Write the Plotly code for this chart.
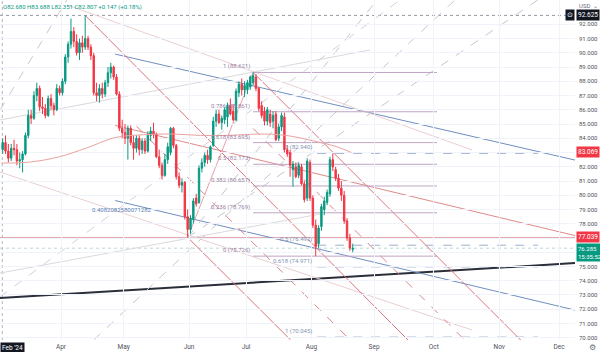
import plotly.graph_objects as go
import pandas as pd

# ---------------- data ----------------
OPEN = [83.2, 83.7, 83.1, 82.6, 83.3, 83.2, 82.4, 82.5, 82.9, 84.2, 85.6, 85.4, 87.0, 87.5, 86.2, 86.1, 85.6, 86.8, 86.3, 86.0, 87.5,
        87.2, 88.0, 89.7, 90.6, 91.5, 90.8, 90.0, 90.7, 90.4, 91.0, 90.4, 89.8, 87.2, 87.0, 87.5, 87.1, 87.9, 88.6, 89.0, 88.3, 87.1, 84.7,
        84.4, 84.0, 84.7, 83.7, 83.3, 84.0, 83.2, 83.8, 83.1, 84.2, 84.5, 84.3, 82.7, 82.1, 81.4, 82.5, 83.0, 84.7, 83.5, 81.3, 80.7, 80.9, 78.5,
        77.6, 78.3, 79.8, 79.5, 81.9, 82.3, 82.8, 82.5, 83.5, 85.2, 85.7, 85.1, 85.3, 85.5, 86.3, 85.9, 85.3, 87.2, 87.8, 87.4,
        87.4, 87.6, 87.9, 88.3, 87.5, 86.3, 85.9, 85.2, 85.7, 85.2, 85.7, 84.0, 84.8, 85.5, 83.2, 83.0, 81.8, 82.0, 81.4, 82.0, 80.8, 79.8, 82.3,
        79.8, 77.9, 76.6, 77.8, 79.0, 79.5, 80.1, 82.5, 81.8, 81.2, 80.5, 80.0, 78.2, 77.0, 76.2]
HIGH = [84.0, 84.2, 83.6, 83.6, 83.9, 83.6, 83.0, 83.1, 84.4, 86.0, 86.0, 87.3, 87.9, 87.7, 86.9, 86.4, 87.0, 87.1, 86.5, 87.8, 87.7,
        88.2, 89.9, 90.8, 92.4, 91.8, 91.3, 91.0, 91.2, 92.625, 91.2, 90.6, 90.0, 87.9, 87.8, 87.9, 88.1, 89.0, 89.3, 89.1, 88.5, 87.3, 85.3,
        85.0, 84.9, 84.9, 84.2, 84.2, 84.2, 84.0, 84.0, 84.5, 84.8, 85.1, 84.4, 83.2, 82.3, 82.9, 83.7, 84.8, 84.8, 83.6, 81.6, 81.2, 81.0, 79.0,
        78.6, 79.8, 80.1, 82.1, 82.6, 83.0, 83.2, 83.5, 85.5, 86.0, 86.0, 85.6, 86.2, 86.5, 86.8, 86.4, 87.5, 88.0, 88.2, 88.0,
        88.1, 88.4, 88.621, 88.5, 87.6, 86.6, 86.2, 86.2, 86.0, 85.9, 85.9, 85.0, 85.8, 85.8, 83.5, 83.2, 82.4, 82.3, 82.3, 82.2, 81.0, 82.6, 82.5,
        80.0, 78.3, 77.9, 79.4, 79.9, 80.4, 82.7, 82.94, 82.0, 81.5, 81.0, 80.3, 78.4, 77.3, 76.6]
LOW = [82.9, 82.9, 82.3, 82.4, 82.8, 82.1, 81.9, 81.6, 82.8, 84.0, 85.0, 85.3, 86.6, 85.9, 85.7, 85.4, 85.5, 86.0, 85.6, 85.9, 87.0,
       87.0, 87.8, 89.3, 90.3, 90.4, 89.8, 89.5, 90.0, 90.2, 90.2, 89.5, 87.0, 86.6, 86.5, 86.8, 86.9, 87.6, 88.2, 88.1, 87.0, 84.5, 84.0,
       83.6, 82.5, 83.5, 82.5, 83.0, 82.8, 82.9, 82.9, 83.0, 83.8, 84.0, 82.6, 81.9, 81.1, 81.3, 82.2, 82.8, 83.3, 81.1, 80.5, 80.2, 78.3, 77.04,
       77.3, 78.0, 79.2, 79.4, 81.6, 82.0, 82.2, 82.3, 83.4, 84.8, 85.0, 84.6, 85.0, 84.8, 85.6, 85.2, 85.2, 86.9, 87.0, 86.9,
       87.1, 87.4, 87.7, 87.3, 85.9, 85.4, 84.9, 84.9, 84.8, 84.7, 83.8, 83.8, 84.5, 83.0, 82.7, 81.3, 80.6, 81.2, 81.2, 80.7, 79.5, 79.6, 79.6,
       77.7, 75.726, 76.3, 77.5, 78.6, 79.3, 79.9, 81.7, 81.0, 80.3, 79.6, 78.0, 76.8, 76.1, 76.0]
CLOSE = [83.7, 83.1, 82.6, 83.3, 83.2, 82.4, 82.5, 82.9, 84.2, 85.6, 85.4, 87.0, 87.5, 86.2, 86.1, 85.6, 86.8, 86.3, 86.0, 87.5, 87.2,
         88.0, 89.7, 90.6, 91.5, 90.8, 90.0, 90.7, 90.4, 91.0, 90.4, 89.8, 87.2, 87.0, 87.5, 87.1, 87.9, 88.6, 89.0, 88.3, 87.1, 84.7, 84.4,
         84.0, 84.7, 83.7, 83.3, 84.0, 83.2, 83.8, 83.1, 84.2, 84.5, 84.3, 82.7, 82.1, 81.4, 82.5, 83.4, 84.7, 83.5, 81.3, 80.7, 80.9, 78.5, 77.6,
         78.4, 79.6, 79.4, 81.9, 82.3, 82.8, 82.5, 83.4, 85.2, 85.7, 85.1, 85.4, 86.0, 86.3, 85.7, 85.3, 87.3, 87.8, 87.4, 87.7,
         87.9, 88.3, 88.4, 87.5, 86.1, 85.6, 85.2, 86.0, 85.1, 85.6, 83.9, 84.8, 85.6, 83.2, 82.9, 82.1, 82.2, 81.3, 82.1, 80.8, 79.7, 82.4, 79.8,
         77.9, 76.4, 77.7, 79.2, 79.6, 80.2, 82.5, 82.0, 81.2, 80.5, 80.0, 78.2, 77.0, 76.3, 76.285]
DATES = pd.bdate_range("2024-03-01", "2024-08-21") + pd.Timedelta(hours=12)

MA_DATES = ["2024-03-01", "2024-03-15", "2024-03-29", "2024-04-12", "2024-04-26", "2024-05-10", "2024-05-24",
            "2024-06-07", "2024-06-21", "2024-07-05", "2024-07-19", "2024-08-02", "2024-08-14", "2024-08-21"]
MA_VALUES = [82.26, 82.33, 82.68, 83.32, 84.05, 84.25, 84.30, 84.20, 84.20, 84.30, 84.20, 83.80, 83.40, 83.00]

Y_TICKS = list(range(70, 93))
Y_TICKS_HIDDEN = [76, 77, 83]          # covered by the price boxes in the reference
X_TICK_DATES = ["2024-04-01", "2024-05-01", "2024-06-03", "2024-07-01", "2024-08-01",
                "2024-09-02", "2024-10-01", "2024-11-01", "2024-12-02"]
X_TICK_TEXT = ["Apr", "May", "Jun", "Jul", "Aug", "Sep", "Oct", "Nov", "Dec"]
X_RANGE = ["2024-02-29 13:35", "2024-12-09 14:24"]
Y_RANGE = [69.84, 93.706]

FIB1_LEVELS = ["1", "0.786", "0.618", "0.5", "0.382", "0.236", "0"]
FIB1_PRICES = [88.621, 85.861, 83.695, 82.173, 80.651, 78.769, 75.726]
FIB1_SPAN = ["2024-07-03 12:00", "2024-10-02 03:00"]
FIB2_LEVELS = ["0", "0.5", "0.618", "1"]
FIB2_PRICES = [82.940, 76.492, 74.971, 70.045]
FIB2_SPAN = ["2024-08-05 00:00", "2024-11-20 14:00"]

LINE_NAMES = ["black", "chan_top", "chan_mid", "chan_bot", "grey_up", "grey_up2", "pink_down1", "pink_down2",
              "swing", "red_a", "red_b", "red_c", "red_mid1", "red_mid2", "fan1", "fan2", "fan3", "fan4", "fan5"]
LINE_X0 = ["2024-02-29 13:35", "2024-04-26 00:00", "2024-04-26 00:00", "2024-04-26 00:00", "2024-02-29 13:35",
           "2024-02-29 13:35", "2024-02-29 13:35", "2024-04-03 02:00", "2024-05-31 12:00", "2024-04-11 12:00",
           "2024-07-03 12:00", "2024-05-31 12:00", "2024-05-07 12:00", "2024-07-03 12:00", "2024-05-31 12:00",
           "2024-02-29 13:35", "2024-02-29 13:35", "2024-04-16 12:00", "2024-05-31 12:00"]
LINE_Y0 = [72.79, 89.91, 84.90, 79.63, 85.28, 74.54, 81.63, 93.36, 77.04, 92.625, 88.621, 77.04, 84.85, 84.69,
           77.04, 85.98, 72.87, 69.84, 77.04]
LINE_X1 = ["2024-12-09 14:24", "2024-12-09 14:24", "2024-12-09 14:24", "2024-12-09 14:24", "2024-08-29 14:00",
           "2024-08-06 00:00", "2024-10-18 10:00", "2024-10-18 10:00", "2024-07-03 12:00", "2024-09-17 22:00",
           "2024-11-12 12:00", "2024-07-22 17:00", "2024-08-20 14:00", "2024-10-15 20:00", "2024-09-03 00:45",
           "2024-04-03 02:00", "2024-09-13 02:00", "2024-10-10 10:00", "2024-11-20 12:00"]
LINE_Y1 = [75.24, 82.47, 77.17, 71.94, 90.20, 78.68, 70.54, 83.18, 88.621, 69.84, 69.84, 69.84, 69.84, 69.84,
           93.706, 93.706, 93.706, 93.706, 93.706]

HIGH_MARK = 92.625
SUPPORT = 77.039
CHANNEL_LABEL = 83.069
LAST_PRICE = 76.285
COUNTDOWN = "15:35:52"
HEADER = "O82.680 H83.688 L82.351 C82.807 +0.147 (+0.18%)"
CHANNEL_RATIO_TEXT = "0.4082082580071282"
CHANNEL_RATIO_POS = ("2024-04-15 05:00", 79.03)

# ---------------- styles ----------------
GREEN = "#089981"
RED = "#f23645"
FONT = "Roboto"
STYLE = {
    "black": dict(color="#2a2e39", width=2, dash="solid"),
    "chan_top": dict(color="#6f8fbf", width=1, dash="solid"),
    "chan_mid": dict(color="#e08a8a", width=1, dash="solid"),
    "chan_bot": dict(color="#6f8fbf", width=1, dash="solid"),
    "grey_up": dict(color="#d9d9de", width=1, dash="solid"),
    "grey_up2": dict(color="#d9d9de", width=1, dash="solid"),
    "pink_down1": dict(color="#e9cfd3", width=1, dash="solid"),
    "pink_down2": dict(color="#e9cfd3", width=1, dash="solid"),
    "swing": dict(color="#e6a1aa", width=1, dash="solid"),
    "red_a": dict(color="#d9747c", width=1, dash="solid"),
    "red_b": dict(color="#d9747c", width=1, dash="solid"),
    "red_c": dict(color="#d9747c", width=1, dash="solid"),
    "red_mid1": dict(color="#d9848b", width=1, dash="dash"),
    "red_mid2": dict(color="#d9848b", width=1, dash="dash"),
    "fan1": dict(color="#c4c7ce", width=1, dash="dash"),
    "fan2": dict(color="#c4c7ce", width=1, dash="dash"),
    "fan3": dict(color="#d0d2d8", width=1, dash="dash"),
    "fan4": dict(color="#c4c7ce", width=1, dash="dash"),
    "fan5": dict(color="#c4c7ce", width=1, dash="dash"),
}

fig = go.Figure()

fig.add_trace(go.Scatter(x=MA_DATES, y=MA_VALUES, mode="lines", line=dict(color="#e9a3a0", width=1, shape="spline"),
                         hoverinfo="skip", showlegend=False))

fig.add_trace(go.Candlestick(
    x=DATES, open=OPEN, high=HIGH, low=LOW, close=CLOSE,
    increasing=dict(line=dict(color=GREEN, width=1), fillcolor=GREEN),
    decreasing=dict(line=dict(color=RED, width=1), fillcolor=RED),
    whiskerwidth=0, hoverinfo="skip", showlegend=False))

shapes = []
shapes.append(dict(type="line", xref="paper", x0=0, x1=1, yref="y", y0=HIGH_MARK, y1=HIGH_MARK,
                   line=dict(color="#9598a1", width=1, dash="dot"), layer="below"))
shapes.append(dict(type="line", xref="paper", x0=0, x1=1, yref="y", y0=SUPPORT, y1=SUPPORT,
                   line=dict(color="#e3a7ae", width=1), layer="below"))
shapes.append(dict(type="line", xref="paper", x0=0, x1=1, yref="y", y0=LAST_PRICE, y1=LAST_PRICE,
                   line=dict(color="#b7d9d3", width=1, dash="dot"), layer="below"))
shapes.append(dict(type="line", xref="paper", x0=0.004, x1=0.004, yref="paper", y0=0, y1=1,
                   line=dict(color="#b2b5be", width=1, dash="dot"), layer="below"))

for name, x0, y0, x1, y1 in zip(LINE_NAMES, LINE_X0, LINE_Y0, LINE_X1, LINE_Y1):
    shapes.append(dict(type="line", xref="x", yref="y", x0=x0, y0=y0, x1=x1, y1=y1,
                       line=STYLE[name], layer="below"))

for p in FIB1_PRICES:
    shapes.append(dict(type="line", xref="x", yref="y", x0=FIB1_SPAN[0], x1=FIB1_SPAN[1], y0=p, y1=p,
                       line=dict(color="#bfa3c4", width=1), layer="below"))
for p in FIB2_PRICES:
    shapes.append(dict(type="line", xref="x", yref="y", x0=FIB2_SPAN[0], x1=FIB2_SPAN[1], y0=p, y1=p,
                       line=dict(color="#9db0cc", width=1, dash="dash"), layer="below"))

annotations = []
for lvl, p in zip(FIB1_LEVELS, FIB1_PRICES):
    annotations.append(dict(x=FIB1_SPAN[0], y=p, xref="x", yref="y", text=f"{lvl} ({p:.3f})", showarrow=False,
                            xanchor="right", yanchor="bottom", yshift=0, xshift=-1,
                            font=dict(family=FONT, size=6, color="#9a7fa3")))
for lvl, p in zip(FIB2_LEVELS, FIB2_PRICES):
    annotations.append(dict(x=FIB2_SPAN[0], y=p, xref="x", yref="y", text=f"{lvl} ({p:.3f})", showarrow=False,
                            xanchor="right", yanchor="bottom", yshift=0, xshift=-3,
                            font=dict(family=FONT, size=6, color="#7f93b3")))
annotations.append(dict(x=CHANNEL_RATIO_POS[0], y=CHANNEL_RATIO_POS[1], xref="x", yref="y", text=CHANNEL_RATIO_TEXT,
                        showarrow=False, xanchor="left", yanchor="middle",
                        font=dict(family=FONT, size=6, color="#5b7fb5")))
annotations.append(dict(x=0, y=1, xref="paper", yref="paper", text=HEADER, showarrow=False, xanchor="left",
                        yanchor="top", xshift=1, yshift=-1, font=dict(family=FONT, size=6, color=GREEN)))
annotations.append(dict(x=1, y=1, xref="paper", yref="paper", text="USD  ⌄", showarrow=False, xanchor="left",
                        yanchor="top", xshift=2, yshift=0, font=dict(family=FONT, size=6, color="#6a6d78")))
annotations.append(dict(x=1, y=HIGH_MARK, xref="paper", yref="y", text=f"{HIGH_MARK:.3f}", showarrow=False,
                        xanchor="left", yanchor="middle", xshift=1, bgcolor="#131722", borderpad=1,
                        font=dict(family=FONT, size=6.5, color="white")))
annotations.append(dict(x=1, y=HIGH_MARK, xref="paper", yref="y", text="⊙", showarrow=False,
                        xanchor="right", yanchor="middle", xshift=0, bgcolor="#131722", borderpad=1,
                        font=dict(family=FONT, size=6.5, color="white")))
annotations.append(dict(x=1, y=CHANNEL_LABEL, xref="paper", yref="y", text=f"{CHANNEL_LABEL:.3f}", showarrow=False,
                        xanchor="left", yanchor="middle", xshift=1, bgcolor=RED, borderpad=1,
                        font=dict(family=FONT, size=6.5, color="white")))
annotations.append(dict(x=1, y=SUPPORT, xref="paper", yref="y", text=f"{SUPPORT:.3f}", showarrow=False,
                        xanchor="left", yanchor="middle", xshift=1, bgcolor=RED, borderpad=1,
                        font=dict(family=FONT, size=6.5, color="white")))
annotations.append(dict(x=1, y=LAST_PRICE, xref="paper", yref="y", text=f"{LAST_PRICE:.3f}<br>{COUNTDOWN}",
                        showarrow=False, xanchor="left", yanchor="top", yshift=5, xshift=1, bgcolor=GREEN,
                        borderpad=1, align="left", font=dict(family=FONT, size=6, color="white")))
annotations.append(dict(x=0, y=0, xref="paper", yref="paper", text="Feb '24", showarrow=False, xanchor="left",
                        yanchor="top", yshift=-2, bgcolor="#131722", borderpad=1,
                        font=dict(family=FONT, size=6.5, color="white")))
annotations.append(dict(x=1, y=0, xref="paper", yref="paper", text="⚙", showarrow=False, xanchor="left",
                        yanchor="top", xshift=12, yshift=-1, font=dict(family="DejaVu Sans", size=8, color="#6a6d78")))

fig.update_layout(
    width=600, height=352, margin=dict(l=0, r=25, t=0, b=12),
    paper_bgcolor="white", plot_bgcolor="white", showlegend=False,
    shapes=shapes, annotations=annotations,
    font=dict(family=FONT, size=6, color="#50535e"),
    xaxis=dict(type="date", range=X_RANGE, rangebreaks=[dict(bounds=["sat", "mon"])],
               rangeslider=dict(visible=False), tickvals=X_TICK_DATES, ticktext=X_TICK_TEXT,
               showgrid=True, gridcolor="#f0f3fa", gridwidth=1, zeroline=False, showline=False,
               ticks="", tickfont=dict(family=FONT, size=6.5, color="#50535e"), ticklabelstandoff=1),
    yaxis=dict(range=Y_RANGE, side="right", tickvals=Y_TICKS,
               ticktext=["" if v in Y_TICKS_HIDDEN else f"{v}.000" for v in Y_TICKS],
               showgrid=True, gridcolor="#f0f3fa", gridwidth=1, zeroline=False, showline=False, ticks="",
               tickfont=dict(family=FONT, size=6, color="#50535e"), ticklabelstandoff=3),
)

fig.write_html("out.html")
